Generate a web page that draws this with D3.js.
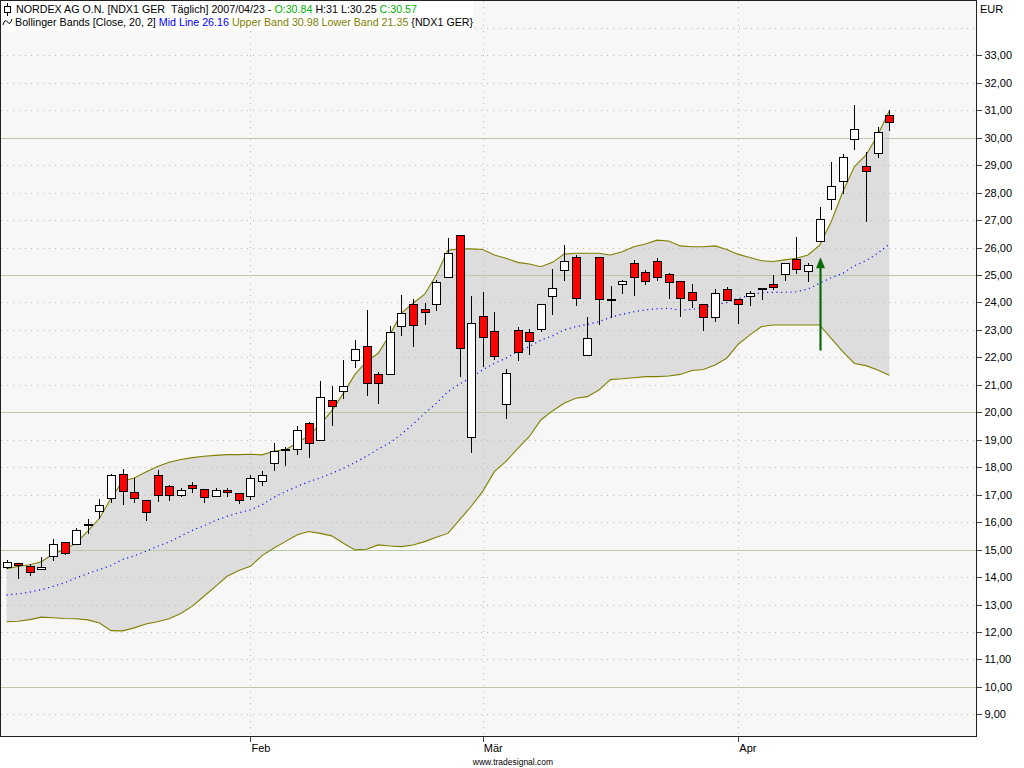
<!DOCTYPE html>
<head>
    <meta charset="utf-8">
    <title>NORDEX AG - Bollinger Bands</title>
    <script type="text/javascript" src="https://d3js.org/d3.v7.min.js"></script>
    <style>
        body { margin: 0; background: #ffffff; }
        text { font-family: "Liberation Sans", Arial, sans-serif; }
    </style>
</head>
<body>
<div id="container"></div>

<script>
    //------------------------1. DATA------------------------//
    const dates = [
        "2007-01-03","2007-01-04","2007-01-05","2007-01-08","2007-01-09","2007-01-10","2007-01-11","2007-01-12",
        "2007-01-15","2007-01-16","2007-01-17","2007-01-18","2007-01-19","2007-01-22","2007-01-23","2007-01-24",
        "2007-01-25","2007-01-26","2007-01-29","2007-01-30","2007-01-31",
        "2007-02-01","2007-02-02","2007-02-05","2007-02-06","2007-02-07","2007-02-08","2007-02-09","2007-02-12",
        "2007-02-13","2007-02-14","2007-02-15","2007-02-16","2007-02-19","2007-02-20","2007-02-21","2007-02-22",
        "2007-02-23","2007-02-26","2007-02-27","2007-02-28",
        "2007-03-01","2007-03-02","2007-03-05","2007-03-06","2007-03-07","2007-03-08","2007-03-09","2007-03-12",
        "2007-03-13","2007-03-14","2007-03-15","2007-03-16","2007-03-19","2007-03-20","2007-03-21","2007-03-22",
        "2007-03-23","2007-03-26","2007-03-27","2007-03-28","2007-03-29","2007-03-30",
        "2007-04-02","2007-04-03","2007-04-04","2007-04-05","2007-04-10","2007-04-11","2007-04-12","2007-04-13",
        "2007-04-16","2007-04-17","2007-04-18","2007-04-19","2007-04-20","2007-04-23"
    ];

    const open = [
        14.35,14.51,14.42,14.30,14.77,15.28,15.21,15.91,16.41,16.89,17.76,17.10,16.81,17.73,17.32,17.00,
        17.36,17.21,16.96,17.18,17.05,
        16.96,17.48,18.16,18.65,18.67,19.62,19.00,20.46,20.79,21.92,22.40,21.38,21.41,23.13,23.96,23.76,
        23.93,24.94,26.46,19.11,
        23.49,22.96,20.29,22.98,22.91,23.02,24.25,25.17,25.66,22.07,25.66,24.09,24.66,25.44,25.10,25.50,
        25.04,24.77,24.37,23.93,23.46,24.48,
        24.11,24.25,24.49,24.66,25.02,25.58,25.16,26.25,27.76,28.44,29.94,28.97,29.45,30.84
    ];
    const high = [
        14.63,14.52,14.47,14.72,15.40,15.29,15.78,16.12,16.85,17.74,17.92,17.62,16.82,17.91,17.36,17.25,
        17.47,17.22,17.25,17.25,17.06,
        17.71,17.86,18.87,18.75,19.50,19.63,21.14,20.96,21.90,22.63,23.72,21.45,23.13,24.28,24.13,23.98,
        24.82,26.36,26.47,24.24,
        24.38,23.65,21.58,23.11,23.02,23.94,25.21,26.09,25.73,23.46,25.67,24.60,24.82,25.55,25.18,25.62,
        25.08,24.78,24.67,23.94,24.48,24.55,
        24.12,24.42,24.54,25.00,25.42,26.38,25.44,27.48,29.11,29.39,31.19,29.49,30.39,31.00
    ];
    const low = [
        14.29,13.93,14.03,14.29,14.57,14.81,15.20,15.56,16.12,16.70,16.63,16.70,16.03,16.74,16.78,16.92,
        17.07,16.70,16.95,16.92,16.67,
        16.80,17.33,17.86,18.04,18.44,18.34,18.99,19.50,20.50,21.63,20.60,20.30,21.40,22.79,22.39,23.18,
        23.68,24.93,21.30,18.53,
        21.64,21.90,19.77,21.88,22.10,22.94,23.56,24.79,23.88,22.06,23.19,23.45,24.32,24.25,24.62,24.79,
        24.14,23.46,23.81,22.97,23.28,24.07,
        23.23,23.88,24.10,24.47,24.79,25.05,24.76,26.24,27.37,27.96,29.56,26.94,29.27,30.25
    ];
    const close = [
        14.55,14.44,14.18,14.38,15.21,14.88,15.73,15.93,16.63,17.73,17.14,16.89,16.38,17.00,17.00,17.18,
        17.25,16.92,17.18,17.10,16.82,
        17.59,17.70,18.59,18.67,19.35,18.89,20.54,20.24,20.97,22.32,21.05,21.08,22.91,23.60,23.17,23.66,
        24.74,25.79,22.33,23.24,
        22.73,22.06,21.42,22.18,22.58,23.94,24.51,25.50,24.15,22.69,24.11,24.11,24.78,24.92,24.77,24.92,
        24.73,24.15,24.08,23.46,24.33,24.08,
        23.93,24.33,24.51,24.55,25.42,25.23,25.35,27.03,28.24,29.30,30.32,28.80,30.21,30.57
    ];

    // Bollinger Bands [Close, 20, 2]
    const midLine = [
        13.35,13.39,13.45,13.54,13.66,13.79,13.97,14.13,14.27,14.42,14.64,14.77,14.94,15.12,15.28,15.49,
        15.70,15.87,16.06,16.21,16.34,
        16.45,16.63,16.90,17.11,17.29,17.47,17.61,17.78,17.96,18.17,18.40,18.66,18.89,19.20,19.57,19.96,
        20.33,20.75,21.03,21.27,
        21.55,21.78,21.97,22.21,22.39,22.63,22.78,23.00,23.12,23.20,23.30,23.46,23.57,23.66,23.73,23.77,
        23.79,23.72,23.75,23.82,23.91,24.00,
        24.14,24.27,24.36,24.37,24.37,24.39,24.49,24.70,24.90,25.06,25.33,25.52,25.79,26.12
    ];
    const upperBand = [
        14.30,14.39,14.45,14.56,14.84,15.00,15.24,15.67,16.14,16.87,17.49,17.61,17.83,18.03,18.18,18.28,
        18.35,18.40,18.43,18.46,18.46,
        18.47,18.45,18.58,18.64,18.87,19.15,19.55,20.05,20.69,21.38,21.85,22.15,22.82,23.61,23.97,24.30,
        25.00,25.90,25.95,25.95,
        25.93,25.73,25.61,25.46,25.40,25.30,25.46,25.76,25.79,25.79,25.79,25.73,25.85,26.03,26.13,26.27,
        26.24,26.06,26.03,26.03,26.06,25.93,
        25.75,25.64,25.52,25.49,25.55,25.61,25.73,26.09,26.94,28.03,28.95,29.37,30.10,30.98
    ];
    const lowerBand = [
        12.37,12.39,12.45,12.54,12.52,12.49,12.48,12.44,12.33,12.05,12.04,12.15,12.29,12.37,12.48,12.67,
        12.94,13.30,13.66,14.03,14.24,
        14.39,14.78,15.05,15.29,15.53,15.66,15.59,15.50,15.23,14.99,15.01,15.17,15.13,15.11,15.17,15.29,
        15.45,15.59,16.08,16.57,
        17.12,17.84,18.21,18.68,19.11,19.72,20.05,20.33,20.51,20.57,20.81,21.19,21.22,21.26,21.30,21.30,
        21.32,21.38,21.52,21.56,21.72,21.97,
        22.48,22.82,23.12,23.18,23.18,23.18,23.18,23.18,22.69,22.21,21.78,21.70,21.54,21.35
    ];

    const monthTicks = ["2007-02-01", "2007-03-01", "2007-04-02"];
    const monthLabels = ["Feb", "Mär", "Apr"];
    const priceTicks = [9,10,11,12,13,14,15,16,17,18,19,20,21,22,23,24,25,26,27,28,29,30,31,32,33];
    const gridLevels = [9,10,11,12,13,14,15,16,17,18,19,20,21,22,23,24,25,26,27,28,29,30,31,32,33,34];

    // green signal arrow
    const arrowDate = "2007-04-13";
    const arrowFrom = 22.25;
    const arrowTo = 25.65;

    //------------------------2. PREPARATION------------------------//
    const width = 1024;
    const height = 768;
    const plotRight = 976;
    const plotBottom = 736;

    const svg = d3.select("div#container").append("svg")
        .attr("width", width)
        .attr("height", height)
        .style("display", "block");

    const xScale = d3.scalePoint().domain(dates).range([6.5, 889.3]);
    const yScale = d3.scaleLinear().domain([10, 30]).range([686.9, 137.7]);

    const px = function(v) { return Math.round(v) + 0.5; };

    const bars = dates.map(function(d, i) {
        return { date: d, o: open[i], h: high[i], l: low[i], c: close[i],
                 mid: midLine[i], up: upperBand[i], lo: lowerBand[i] };
    });

    //------------------------3. DRAWING------------------------//
    // plot background
    svg.append("rect")
        .attr("x", 0).attr("y", 0)
        .attr("width", plotRight).attr("height", plotBottom)
        .attr("fill", "#f7f7f7");

    // band fill
    const area = d3.area()
        .x(function(d) { return xScale(d.date); })
        .y0(function(d) { return yScale(d.lo); })
        .y1(function(d) { return yScale(d.up); });

    svg.append("path")
        .datum(bars)
        .attr("d", area)
        .attr("fill", "#dddddd");

    // horizontal grid
    svg.append("g")
        .selectAll("line")
        .data(gridLevels)
        .enter()
        .append("line")
        .attr("x1", 1).attr("x2", plotRight)
        .attr("y1", function(d) { return px(yScale(d)); })
        .attr("y2", function(d) { return px(yScale(d)); })
        .attr("stroke", function(d) { return d % 5 === 0 ? "#b9c9a9" : "#bdbda4"; })
        .attr("stroke-dasharray", function(d) { return d % 5 === 0 ? null : "1,5"; })
        .attr("shape-rendering", "crispEdges");

    // vertical month grid
    svg.append("g")
        .selectAll("line")
        .data(monthTicks)
        .enter()
        .append("line")
        .attr("x1", function(d) { return px(xScale(d)); })
        .attr("x2", function(d) { return px(xScale(d)); })
        .attr("y1", 1).attr("y2", plotBottom)
        .attr("stroke", "#bdbdb0")
        .attr("stroke-dasharray", "1,5")
        .attr("shape-rendering", "crispEdges");

    // band lines
    const upperLine = d3.line()
        .x(function(d) { return xScale(d.date); })
        .y(function(d) { return yScale(d.up); });
    const lowerLine = d3.line()
        .x(function(d) { return xScale(d.date); })
        .y(function(d) { return yScale(d.lo); });
    const midPath = d3.line()
        .x(function(d) { return xScale(d.date); })
        .y(function(d) { return yScale(d.mid); });

    svg.append("path").datum(bars).attr("d", upperLine)
        .attr("fill", "none").attr("stroke", "#808000").attr("stroke-width", 1.1);
    svg.append("path").datum(bars).attr("d", lowerLine)
        .attr("fill", "none").attr("stroke", "#808000").attr("stroke-width", 1.1);
    svg.append("path").datum(bars).attr("d", midPath)
        .attr("fill", "none").attr("stroke", "#0000ff").attr("stroke-width", 1.2)
        .attr("stroke-dasharray", "1.1,3.6");

    // candles
    const candles = svg.append("g")
        .selectAll("g")
        .data(bars)
        .enter()
        .append("g");

    candles.append("line")
        .attr("x1", function(d) { return px(xScale(d.date)); })
        .attr("x2", function(d) { return px(xScale(d.date)); })
        .attr("y1", function(d) { return Math.round(yScale(d.h)); })
        .attr("y2", function(d) { return Math.round(yScale(d.l)); })
        .attr("stroke", "#000")
        .attr("shape-rendering", "crispEdges");

    candles.append("rect")
        .attr("x", function(d) { return Math.round(xScale(d.date)) - 3.5; })
        .attr("width", 8)
        .attr("y", function(d) { return px(yScale(Math.max(d.o, d.c))); })
        .attr("height", function(d) {
            return Math.max(1, px(yScale(Math.min(d.o, d.c))) - px(yScale(Math.max(d.o, d.c))));
        })
        .attr("fill", function(d) { return d.c >= d.o ? "#ffffff" : "#ff0000"; })
        .attr("stroke", "#000")
        .attr("shape-rendering", "crispEdges");

    // signal arrow
    const ax = px(xScale(arrowDate));
    const aTop = yScale(arrowTo);
    svg.append("line")
        .attr("x1", ax).attr("x2", ax)
        .attr("y1", yScale(arrowFrom)).attr("y2", aTop + 6)
        .attr("stroke", "#0a6a0a").attr("stroke-width", 2.2);
    svg.append("path")
        .attr("d", "M" + ax + "," + aTop + " L" + (ax + 4.5) + "," + (aTop + 11)
            + " L" + (ax - 4.5) + "," + (aTop + 11) + " Z")
        .attr("fill", "#0a6a0a");

    //------------------------AXES------------------------//
    const yaxis = d3.axisRight(yScale)
        .tickValues(priceTicks)
        .tickSize(5)
        .tickPadding(3)
        .tickFormat(function(d) { return d.toFixed(2).replace(".", ","); });

    const yg = svg.append("g")
        .attr("transform", "translate(" + (plotRight + 0.5) + ",0)")
        .call(yaxis);
    yg.select(".domain").remove();
    yg.selectAll(".tick line").attr("stroke", "#444").attr("shape-rendering", "crispEdges");
    yg.selectAll(".tick text").attr("font-size", "11px").attr("font-family", "Liberation Sans, Arial, sans-serif")
        .attr("fill", "#000");

    const xaxis = d3.axisBottom(xScale)
        .tickValues(monthTicks)
        .tickSize(5)
        .tickFormat(function(d, i) { return monthLabels[i]; });

    const xg = svg.append("g")
        .attr("transform", "translate(0," + (plotBottom + 0.5) + ")")
        .call(xaxis);
    xg.select(".domain").remove();
    xg.selectAll(".tick line").attr("stroke", "#444").attr("shape-rendering", "crispEdges");
    xg.selectAll(".tick text")
        .attr("text-anchor", "start")
        .attr("dx", "0.5")
        .attr("y", 8)
        .attr("font-size", "11px").attr("font-family", "Liberation Sans, Arial, sans-serif")
        .attr("fill", "#000");

    svg.append("text")
        .attr("x", 980).attr("y", 13)
        .attr("font-size", "11px")
        .text("EUR");

    svg.append("text")
        .attr("x", 513).attr("y", 765)
        .attr("text-anchor", "middle")
        .attr("font-size", "8.5px")
        .text("www.tradesignal.com");

    // plot frame
    svg.append("rect")
        .attr("x", 0.5).attr("y", 0.5)
        .attr("width", plotRight).attr("height", plotBottom)
        .attr("fill", "none")
        .attr("stroke", "#222")
        .attr("shape-rendering", "crispEdges");

    //------------------------LEGEND------------------------//
    svg.append("rect")
        .attr("x", 1).attr("y", 1)
        .attr("width", 472).attr("height", 30)
        .attr("fill", "#ffffff");

    // candle icon
    svg.append("line").attr("x1", 7.5).attr("x2", 7.5).attr("y1", 3).attr("y2", 16)
        .attr("stroke", "#000");
    svg.append("rect").attr("x", 4.5).attr("y", 6.5).attr("width", 6).attr("height", 6)
        .attr("fill", "#fff").attr("stroke", "#000");
    // indicator icon
    svg.append("path")
        .attr("d", "M3,25 Q5,18 7.5,22 T12,19")
        .attr("fill", "none").attr("stroke", "#000");

    const line1 = svg.append("text").attr("x", 16).attr("y", 13).attr("font-size", "10.7px");
    line1.append("tspan").attr("fill", "#000").text("NORDEX AG O.N. [NDX1 GER\u00a0\u00a0Täglich] 2007/04/23 - ");
    line1.append("tspan").attr("fill", "#00b000").text("O:30.84");
    line1.append("tspan").attr("fill", "#000").text(" H:31 L:30.25 ");
    line1.append("tspan").attr("fill", "#00b000").text("C:30.57");

    const line2 = svg.append("text").attr("x", 15).attr("y", 26).attr("font-size", "10.7px");
    line2.append("tspan").attr("fill", "#000").text("Bollinger Bands [Close, 20, 2] ");
    line2.append("tspan").attr("fill", "#0000ff").text("Mid Line 26.16 ");
    line2.append("tspan").attr("fill", "#808000").text("Upper Band 30.98 Lower Band 21.35 ");
    line2.append("tspan").attr("fill", "#000").text("{NDX1 GER}");
</script>
</body>
